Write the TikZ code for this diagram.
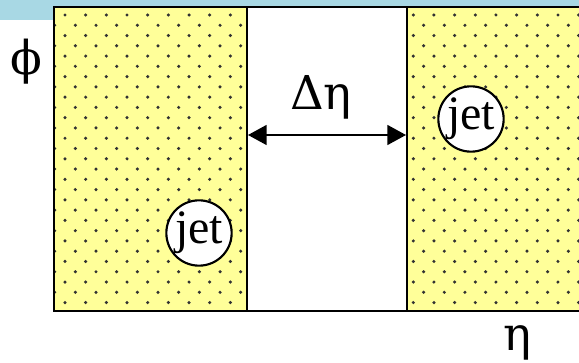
\documentclass[tikz,border=0pt]{standalone}
\usepackage{fontspec}
\setmainfont{Liberation Serif}
\newfontfamily\greekfont{DejaVu Serif}
\usetikzlibrary{arrows.meta}

\definecolor{zoneyellow}{RGB}{255,255,153}
\definecolor{bandblue}{RGB}{168,216,228}
\definecolor{dotgray}{RGB}{50,50,50}

\tikzset{
  jetblob/.style={draw, circle, line width=1.6pt, fill=white, minimum size=49pt, inner sep=0pt, font=\fontsize{36}{40}\selectfont},
  greek/.style={inner sep=0pt, font=\greekfont\fontsize{35}{40}\selectfont},
  border/.style={line width=1.9pt},
}

\begin{document}
\begin{tikzpicture}[x=0.75pt, y=-0.75pt]
        \useasboundingbox (0,0) rectangle (579,363);

        % 背景色带
        \fill[bandblue] (0,0) rectangle (579,6);
        \fill[bandblue] (0,0) rectangle (54,20);

        % 黄色区域
        \fill[zoneyellow] (54,7) rectangle (247,311);
        \fill[zoneyellow] (407,7) rectangle (579,311);

        % 点阵 (左区域)
        \begin{scope}
          \clip (54,7) rectangle (247,311);
          \foreach \i in {0,...,28} {
            \pgfmathsetmacro\xo{mod(\i,2)*10.33}
            \foreach \j in {-1,...,9}
              \fill[dotgray] (65+\xo+20.67*\j, 15+10.27*\i) circle (1.3pt);
          }
        \end{scope}

        % 点阵 (右区域)
        \begin{scope}
          \clip (407,7) rectangle (579,311);
          \foreach \i in {0,...,28} {
            \pgfmathsetmacro\xo{mod(\i,2)*10.33}
            \foreach \j in {-1,...,8}
              \fill[dotgray] (413.3+\xo+20.67*\j, 15+10.27*\i) circle (1.3pt);
          }
        \end{scope}

        % 边框与分隔线
        \draw[border] (579,7) -- (54,7) -- (54,311) -- (579,311);
        \draw[border] (247,7) -- (247,311);
        \draw[border] (407,7) -- (407,311);

        % 坐标轴标签
        \node[greek] (phi) at (26,62) {ϕ};
        \node[greek] (eta) at (517,343) {η};

        % 间隔 Δη
        \node[greek] (deta) at (321,97) {Δη};
        \coordinate (gapL) at (248,135);
        \coordinate (gapR) at (406,135);
        \draw[{Triangle[length=14pt,width=15pt]}-{Triangle[length=14pt,width=15pt]}, line width=1.1pt] (gapL) -- (gapR);

        % 喷注
        \node[jetblob] (jetL) at (199,233) {jet};
        \node[jetblob] (jetR) at (471,119) {jet};
\end{tikzpicture}
\end{document}
